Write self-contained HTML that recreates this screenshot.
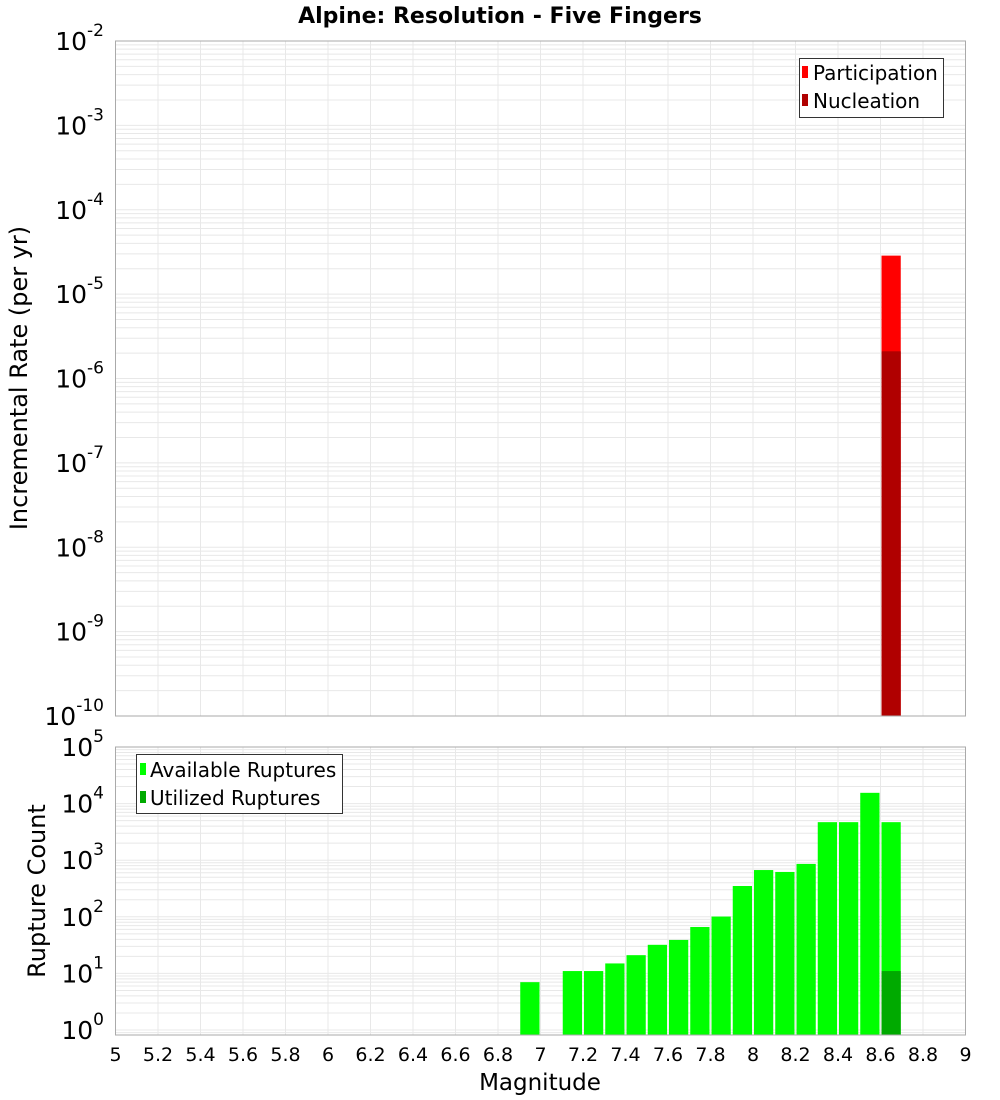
<!DOCTYPE html>
<html><head><meta charset="utf-8"><style>
body{margin:0;background:#fff;}
svg{display:block;font-family:"DejaVu Sans","Liberation Sans",sans-serif;}
</style></head><body>
<svg id="chart" width="1000" height="1100" xmlns="http://www.w3.org/2000/svg">
<text x="500" y="23" text-anchor="middle" font-size="22" font-weight="bold">Alpine: Resolution - Five Fingers</text>
<g id="top"></g>
<g id="bot"></g>
<text transform="translate(27,378) rotate(-90)" text-anchor="middle" font-size="24">Incremental Rate (per yr)</text>
<text transform="translate(45,891) rotate(-90)" text-anchor="middle" font-size="24">Rupture Count</text>
<text x="540" y="1090" text-anchor="middle" font-size="23">Magnitude</text>
</svg>
<script>
const rateMags=[8.65];
const participation=[2.86e-5];
const nucleation=[2.1e-6];
const countMags=[6.95,7.15,7.25,7.35,7.45,7.55,7.65,7.75,7.85,7.95,8.05,8.15,8.25,8.35,8.45,8.55,8.65];
const available=[7,11,11,15,21,32,39,66,101,350,670,620,860,4700,4700,15500,4700];
const utilizedMags=[8.65];
const utilized=[11];
const xTicks=["5","5.2","5.4","5.6","5.8","6","6.2","6.4","6.6","6.8","7","7.2","7.4","7.6","7.8","8","8.2","8.4","8.6","8.8","9"];
const rateExps=[-2,-3,-4,-5,-6,-7,-8,-9,-10];
const countExps=[5,4,3,2,1,0];

const NS="http://www.w3.org/2000/svg";
const X0=115.5,X1=965.5;
const xs=m=>X0+(m-5)/4*(X1-X0);
function mk(p,tag,a){const e=document.createElementNS(NS,tag);for(const k in a)e.setAttribute(k,a[k]);p.appendChild(e);return e;}
function panel(g,top,bottom,yOf,lo,hi){
  for(let d=lo;d<hi;d++)for(let k=1;k<10;k++){const y=yOf(k*Math.pow(10,d));if(y<top||y>bottom)continue;
    const l=mk(g,'line',{x1:X0,x2:X1,y1:y,y2:y,stroke:'#e8e8e8','stroke-width':1});
    
    }
  xTicks.forEach(t=>{const x=xs(+t);const l=mk(g,'line',{x1:x,x2:x,y1:top,y2:bottom,stroke:'#e8e8e8','stroke-width':1});
    
    });
}
function frame(g,top,bottom){const r=mk(g,'rect',{x:X0,y:top,width:X1-X0,height:bottom-top,fill:'none',stroke:'#aaa','stroke-width':1});
  
  }
function yLabel(g,e,y){const t=mk(g,'text',{x:104,y:y+9,'text-anchor':'end','font-size':25});
  
  
  t.textContent='10';const s=mk(t,'tspan',{dy:-14,'font-size':17});s.textContent=String(e);}
function bar(g,m,v,yOf,base,color,name){const x=xs(m-0.05)+1,w=xs(m+0.05)-xs(m-0.05)-2;const y=yOf(v);
  const r=mk(g,'rect',{x:x,y:y,width:w,height:base-y,fill:color});
  
  }

const T=document.getElementById('top');
const tTop=41,tBot=716;
const yT=v=>tTop+(-2-Math.log10(v))*(tBot-tTop)/8;
panel(T,tTop,tBot,yT,-10,-2);
rateMags.forEach((m,i)=>bar(T,m,participation[i],yT,tBot,'#ff0000','participation-bar'));
rateMags.forEach((m,i)=>bar(T,m,nucleation[i],yT,tBot,'#b00000','nucleation-bar'));
frame(T,tTop,tBot);
rateExps.forEach(e=>yLabel(T,e,yT(Math.pow(10,e))));
{const lg=mk(T,'g',{});
 mk(lg,'rect',{x:799.5,y:58.5,width:144,height:59,fill:'#fff',stroke:'#333'});
 [['Participation','#ff0000',73],['Nucleation','#b00000',101]].forEach(([n,c,y])=>{
  mk(lg,'rect',{x:802,y:y-7,width:6,height:12,fill:c});
  const t=mk(lg,'text',{x:813,y:y+7,'font-size':20});
  
  
  t.textContent=n;});}

const B=document.getElementById('bot');
const bTop=747,bBot=1035;
const yB=v=>1030-Math.log10(v)*56.6;
panel(B,bTop,bBot,yB,-1,5);
countMags.forEach((m,i)=>bar(B,m,available[i],yB,bBot,'#00ff00','available-bar'));
utilizedMags.forEach((m,i)=>bar(B,m,utilized[i],yB,bBot,'#00aa00','utilized-bar'));
frame(B,bTop,bBot);
countExps.forEach(e=>yLabel(B,e,yB(Math.pow(10,e))));
{const lg=mk(B,'g',{});
 mk(lg,'rect',{x:136.5,y:754.5,width:206,height:59,fill:'#fff',stroke:'#333'});
 [['Available Ruptures','#00ff00',770],['Utilized Ruptures','#00aa00',798]].forEach(([n,c,y])=>{
  mk(lg,'rect',{x:140,y:y-7,width:6,height:12,fill:c});
  const t=mk(lg,'text',{x:150,y:y+7,'font-size':20});
  
  
  t.textContent=n;});}
xTicks.forEach(tk=>{const t=mk(B,'text',{x:xs(+tk),y:1061,'text-anchor':'middle','font-size':19});
  
  
  t.textContent=tk;});
</script>
</body></html>
